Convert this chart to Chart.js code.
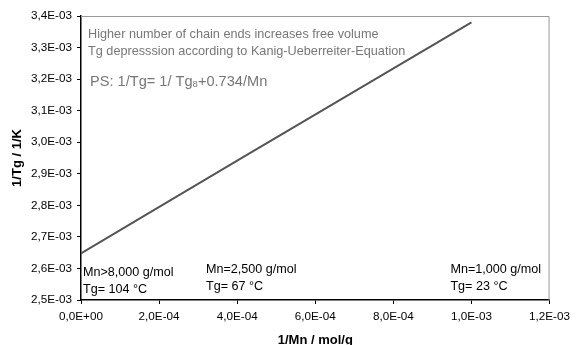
<!DOCTYPE html>
<html>
<head>
<meta charset="utf-8">
<script src="https://cdn.jsdelivr.net/npm/chart.js@4/dist/chart.umd.min.js"></script>
<style>
  body { margin: 0; background: #fff; }
  canvas { display: block; }
</style>
</head>
<body>
<canvas id="tgChart" width="576" height="345"></canvas>
<script>
/* ---- Data ---- */
const INV_MN   = [0, 1.25e-4, 4.0e-4, 1.0e-3];           // 1/Mn (mol/g)
const INV_TG   = [2.648e-3, 2.740e-3, 2.942e-3, 3.380e-3]; // 1/Tg (1/K)
const X_RANGE  = [0, 1.2e-3, 2e-4];
const Y_RANGE  = [2.5e-3, 3.4e-3, 1e-4];

const NOTE_LINES = [
  'Higher number of chain ends increases free volume',
  'Tg depresssion according to Kanig-Ueberreiter-Equation'
];
const CORNER_LABELS = [
  { x: 0,       lines: ['Mn>8,000 g/mol', 'Tg= 104 °C'] },
  { x: 3.15e-4, lines: ['Mn=2,500 g/mol', 'Tg= 67 °C'] },
  { x: 9.41e-4, lines: ['Mn=1,000 g/mol', 'Tg= 23 °C'] }
];

const FONT = 'Liberation Sans, Arial, sans-serif';

/* ---- Number format like "3,4E-03" ---- */
function sciComma(v) {
  if (Math.abs(v) < 1e-12) return '0,0E+00';
  const [m, e] = v.toExponential(1).split('e');
  const exp = parseInt(e, 10);
  const sign = exp < 0 ? '-' : '+';
  return m.replace('.', ',') + 'E' + sign + String(Math.abs(exp)).padStart(2, '0');
}

/* ---- Plot frame + notes ---- */
const framePlugin = {
  id: 'frame',
  afterDraw(chart) {
    const { ctx, chartArea: a, scales } = chart;
    ctx.save();
    // gray top / right border
    ctx.strokeStyle = '#999';
    ctx.lineWidth = 1;
    ctx.beginPath();
    ctx.moveTo(a.left, a.top + 0.5);
    ctx.lineTo(a.right - 0.5, a.top + 0.5);
    ctx.lineTo(a.right - 0.5, a.bottom);
    ctx.stroke();

    // description text
    ctx.fillStyle = '#777';
    ctx.textBaseline = 'middle';
    ctx.textAlign = 'left';
    ctx.font = '12.7px ' + FONT;
    ctx.fillText(NOTE_LINES[0], a.left + 7, 34);
    ctx.fillText(NOTE_LINES[1], a.left + 7, 51);

    // PS formula with subscript 8
    ctx.font = '14.6px ' + FONT;
    let x = a.left + 9;
    const y = 82;
    const p1 = 'PS: 1/Tg= 1/ Tg';
    ctx.fillText(p1, x, y);
    x += ctx.measureText(p1).width;
    ctx.font = '9.5px ' + FONT;
    ctx.fillText('8', x, y + 2);
    x += ctx.measureText('8').width;
    ctx.font = '14.6px ' + FONT;
    ctx.fillText('+0.734/Mn', x, y);

    // Mn / Tg labels along the bottom
    ctx.fillStyle = '#000';
    ctx.font = '12.6px ' + FONT;
    CORNER_LABELS.forEach((lab, i) => {
      const px = scales.x.getPixelForValue(lab.x) + 2;
      const base = i === 0 ? 273 : 270;
      lab.lines.forEach((t, j) => ctx.fillText(t, px, base + j * 17));
    });
    ctx.restore();
  }
};

new Chart(document.getElementById('tgChart').getContext('2d'), {
  type: 'scatter',
  data: {
    datasets: [{
      data: INV_MN.map((x, i) => ({ x, y: INV_TG[i] })),
      showLine: true,
      borderColor: '#555',
      borderWidth: 2,
      pointRadius: 0,
      tension: 0
    }]
  },
  options: {
    responsive: false,
    animation: false,
    layout: { padding: { top: 16, right: 22, left: 0, bottom: 0 } },
    plugins: { legend: { display: false }, tooltip: { enabled: false } },
    scales: {
      x: {
        type: 'linear',
        min: X_RANGE[0], max: X_RANGE[1],
        afterFit: s => { s.height = 45; },
        border: { color: '#000', width: 1.5 },
        grid: { drawOnChartArea: false, color: '#000', tickLength: 4 },
        ticks: {
          stepSize: X_RANGE[2], color: '#000', padding: 6,
          font: { family: FONT, size: 11.7 },
          callback: v => sciComma(v)
        },
        title: {
          display: true, text: '1/Mn / mol/g', color: '#000',
          font: { family: FONT, size: 13, weight: 'bold', lineHeight: 1 },
          padding: { top: 4, bottom: -2 }
        }
      },
      y: {
        type: 'linear',
        min: Y_RANGE[0], max: Y_RANGE[1],
        afterFit: s => { s.width = 81; },
        border: { color: '#000', width: 1.5 },
        grid: { drawOnChartArea: false, color: '#000', tickLength: 4 },
        ticks: {
          stepSize: Y_RANGE[2], color: '#000', padding: 5,
          font: { family: FONT, size: 11.7 },
          callback: v => sciComma(v)
        },
        title: {
          display: true, text: '1/Tg / 1/K', color: '#000',
          font: { family: FONT, size: 13, weight: 'bold', lineHeight: 1 },
          padding: { top: 11, bottom: 0 }
        }
      }
    }
  },
  plugins: [framePlugin]
});
</script>
</body>
</html>
